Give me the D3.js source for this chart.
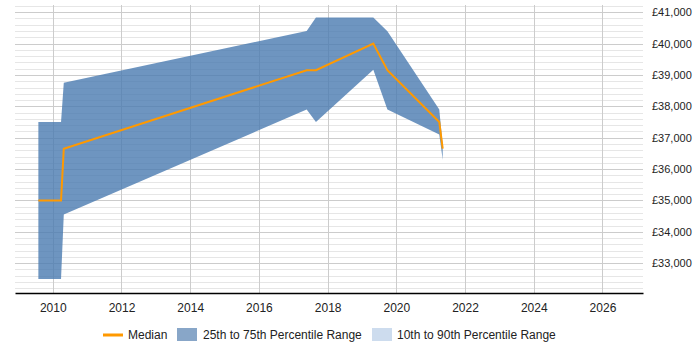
<!DOCTYPE html>
<html>
<head>
<meta charset="utf-8">
<script src="https://cdn.jsdelivr.net/npm/d3@7"></script>
<style>
  body { margin: 0; background: #fff; }
  svg text { font-family: Arial, "Liberation Sans", sans-serif; fill: #222; }
</style>
</head>
<body>
<div id="container"></div>
<script>
/* DATA */
const years = [2009.58, 2010.24, 2010.32, 2017.39, 2017.66, 2019.33, 2019.74, 2021.25, 2021.35]
const median = [35000, 35000, 36650, 39150, 39150, 40000, 39150, 37500, 36650]
const p25 = [32500, 32500, 34550, 37900, 37500, 39170, 37900, 37100, 36300]
const p75 = [37500, 37500, 38750, 40400, 40830, 40830, 40390, 37900, 36750]
const xTicks = [2010, 2012, 2014, 2016, 2018, 2020, 2022, 2024, 2026]
const yTicks = [33000, 34000, 35000, 36000, 37000, 38000, 39000, 40000, 41000]
const legendItems = ["Median", "25th to 75th Percentile Range", "10th to 90th Percentile Range"]

/* CONSTANTS */
const width = 700,
  height = 350,
  margin = { top: 5, bottom: 57, left: 15, right: 57 }

const data = years.map((y, i) => ({ year: y, median: median[i], lo: p25[i], hi: p75[i] }))

const svg = d3.select("#container")
  .append("svg")
  .attr("width", width)
  .attr("height", height)

// SCALES
const xScale = d3.scaleLinear()
  .domain([2008.9, 2027.18])
  .range([margin.left, width - margin.right])

const yScale = d3.scaleLinear()
  .domain([32050, 41230])
  .range([height - margin.bottom, margin.top])

// GRID
const minor = d3.range(32200, 41230, 200).filter(v => v % 1000 !== 0)
svg.append("g")
  .selectAll("line")
  .data(minor)
  .join("line")
  .attr("x1", margin.left)
  .attr("x2", width - margin.right)
  .attr("y1", d => Math.round(yScale(d)) + 0.5)
  .attr("y2", d => Math.round(yScale(d)) + 0.5)
  .attr("stroke", "#e6e6e6")

svg.append("g")
  .selectAll("line")
  .data(yTicks)
  .join("line")
  .attr("x1", margin.left)
  .attr("x2", width - margin.right)
  .attr("y1", d => Math.round(yScale(d)) + 0.5)
  .attr("y2", d => Math.round(yScale(d)) + 0.5)
  .attr("stroke", "#cccccc")

svg.append("g")
  .selectAll("line")
  .data(xTicks)
  .join("line")
  .attr("x1", d => Math.round(xScale(d)) + 0.5)
  .attr("x2", d => Math.round(xScale(d)) + 0.5)
  .attr("y1", margin.top)
  .attr("y2", height - margin.bottom)
  .attr("stroke", "#cccccc")

// BAND
const areaGen = d3.area()
  .x(d => xScale(d.year))
  .y0(d => yScale(d.lo))
  .y1(d => yScale(d.hi))

svg.append("path")
  .datum(data)
  .attr("fill", "#4a7ab0")
  .attr("opacity", 0.8)
  .attr("d", areaGen)

// MEDIAN
const lineGen = d3.line()
  .x(d => xScale(d.year))
  .y(d => yScale(d.median))

svg.append("path")
  .datum(data)
  .attr("fill", "none")
  .attr("stroke", "#ff9900")
  .attr("stroke-width", 2)
  .attr("d", lineGen)

// AXES
const xAxis = d3.axisBottom(xScale)
  .tickValues(xTicks)
  .tickFormat(d3.format("d"))
  .tickSize(0)
  .tickPadding(10)

const xAxisGroup = svg.append("g")
  .attr("transform", `translate(0, ${height - margin.bottom})`)
  .call(xAxis)
xAxisGroup.select(".domain").attr("stroke", "#000").attr("stroke-width", 1.5)
xAxisGroup.selectAll("text").attr("font-size", 12)

const yAxis = d3.axisRight(yScale)
  .tickValues(yTicks)
  .tickFormat(d => "£" + d3.format(",")(d))
  .tickSize(0)
  .tickPadding(9)

const yAxisGroup = svg.append("g")
  .attr("transform", `translate(${width - margin.right}, 0)`)
  .call(yAxis)
yAxisGroup.select(".domain").remove()
yAxisGroup.selectAll("text").attr("font-size", 11)

// LEGEND
const legend = svg.append("g").attr("transform", `translate(0, 335)`)
legend.append("line")
  .attr("x1", 103).attr("x2", 123)
  .attr("stroke", "#ff9900").attr("stroke-width", 3)
legend.append("rect")
  .attr("x", 177).attr("y", -7).attr("width", 20).attr("height", 13)
  .attr("fill", "#88a6c8")
legend.append("rect")
  .attr("x", 372).attr("y", -7).attr("width", 20).attr("height", 13)
  .attr("fill", "#cddcee")
legend.selectAll("text")
  .data(legendItems)
  .join("text")
  .attr("x", (d, i) => [128, 203, 397][i])
  .attr("dy", "0.35em")
  .attr("font-size", 12)
  .text(d => d)
</script>
</body>
</html>
